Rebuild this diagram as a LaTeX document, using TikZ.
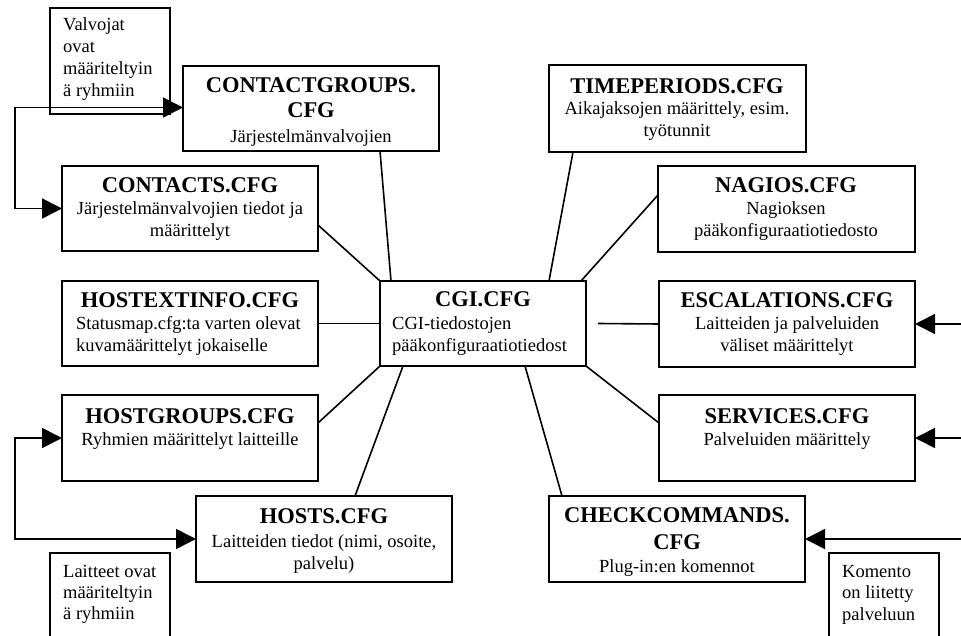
\documentclass[tikz,border=0pt]{standalone}
\usepackage{fontspec}
\setmainfont{Liberation Serif}
\usetikzlibrary{arrows.meta}
\newcommand\ttlfont{\fontsize{22.5}{26}\selectfont\bfseries}
\newcommand\bdyfont{\fontsize{18.5}{22}\selectfont}
% box: [style]{name}{x1}{y1}{x2}{y2}
\newcommand\mkbox[6][bx]{\node[#1, minimum width={(#5-#3)*1pt}, minimum height={(#6-#4)*1pt}] (#2) at ({(#3+#5)/2},{(#4+#6)/2}) {};}
% text line: {name}{style}{x}{y}{text}
\newcommand\tline[5]{\node[#2] (#1) at (#3,#4) {#5};}
\begin{document}
\begin{tikzpicture}[x=1pt,y=-1pt,
  bx/.style={draw,line width=1.8pt,rectangle,inner sep=0pt,outer sep=0pt},
  notebx/.style={draw,line width=1.4pt,rectangle,inner sep=0pt,outer sep=0pt},
  ttl/.style={anchor=base,inner sep=0pt,font=\ttlfont},
  bdy/.style={anchor=base,inner sep=0pt,font=\bdyfont},
  bdyl/.style={anchor=base west,inner sep=0pt,font=\bdyfont},
  link/.style={line width=1.6pt},
  tip/.tip={Triangle[length=20pt,width=20pt]},
  arr/.style={line width=1.6pt,-tip},
  darr/.style={line width=1.6pt,tip-tip}]
\useasboundingbox (0,0) rectangle (961,636);

% boxes
\mkbox[notebx]{vnote}{50}{8}{170}{114}
\mkbox{cg}{183}{66}{439}{151}
\mkbox{contacts}{62}{166}{318}{251}
\mkbox{hostext}{62}{281}{318}{366}
\mkbox{cgi}{380}{281}{586}{366}
\mkbox{hostgroups}{62}{395}{318}{481}
\mkbox{hosts}{196}{496}{452}{582}
\mkbox[notebx]{lnote}{50}{553}{170}{648}
\mkbox{tp}{549}{65}{806}{152}
\mkbox{nagios}{658}{166}{915}{252}
\mkbox{esc}{659}{281}{915}{367}
\mkbox{serv}{659}{395}{915}{481}
\mkbox{cc}{549}{496}{805}{582}
\mkbox[notebx]{knote}{829}{553}{939}{648}

% texts
\tline{vn1}{bdyl}{63}{31}{Valvojat}
\tline{vn2}{bdyl}{63}{53}{ovat}
\tline{vn3}{bdyl}{63}{75}{määriteltyin}
\tline{vn4}{bdyl}{63}{97}{ä ryhmiin}

\tline{cg1}{ttl}{311}{93}{CONTACTGROUPS.}
\tline{cg2}{ttl}{311}{118}{CFG}
\tline{cg3}{bdy}{311}{143}{Järjestelmänvalvojien}

\tline{ct1}{ttl}{190}{193}{CONTACTS.CFG}
\tline{ct2}{bdy}{190}{215}{Järjestelmänvalvojien tiedot ja}
\tline{ct3}{bdy}{190}{237}{määrittelyt}

\tline{he1}{ttl}{190}{308}{HOSTEXTINFO.CFG}
\tline{he2}{bdyl}{76}{330}{Statusmap.cfg:ta varten olevat}
\tline{he3}{bdyl}{76}{352}{kuvamäärittelyt jokaiselle}

\tline{cgi1}{ttl}{483}{307}{CGI.CFG}
\tline{cgi2}{bdyl}{392}{329}{CGI-tiedostojen}
\tline{cgi3}{bdyl}{392}{352}{pääkonfiguraatiotiedost}

\tline{hg1}{ttl}{190}{423}{HOSTGROUPS.CFG}
\tline{hg2}{bdy}{190}{445}{Ryhmien määrittelyt laitteille}

\tline{ho1}{ttl}{324}{523}{HOSTS.CFG}
\tline{ho2}{bdy}{324}{547}{Laitteiden tiedot (nimi, osoite,}
\tline{ho3}{bdy}{324}{569}{palvelu)}

\tline{ln1}{bdyl}{63}{577}{Laitteet ovat}
\tline{ln2}{bdyl}{63}{598}{määriteltyin}
\tline{ln3}{bdyl}{63}{619}{ä ryhmiin}

\tline{tp1}{ttl}{677}{94}{TIMEPERIODS.CFG}
\tline{tp2}{bdy}{677}{115}{Aikajaksojen määrittely, esim.}
\tline{tp3}{bdy}{677}{137}{työtunnit}

\tline{na1}{ttl}{786}{193}{NAGIOS.CFG}
\tline{na2}{bdy}{786}{215}{Nagioksen}
\tline{na3}{bdy}{786}{237}{pääkonfiguraatiotiedosto}

\tline{es1}{ttl}{787}{308}{ESCALATIONS.CFG}
\tline{es2}{bdy}{787}{330}{Laitteiden ja palveluiden}
\tline{es3}{bdy}{787}{352}{väliset määrittelyt}

\tline{sv1}{ttl}{787}{423}{SERVICES.CFG}
\tline{sv2}{bdy}{787}{445}{Palveluiden määrittely}

\tline{cc1}{ttl}{677}{522}{CHECKCOMMANDS.}
\tline{cc2}{ttl}{677}{549}{CFG}
\tline{cc3}{bdy}{677}{572}{Plug-in:en komennot}

\tline{kn1}{bdyl}{842}{577}{Komento}
\tline{kn2}{bdyl}{842}{598}{on liitetty}
\tline{kn3}{bdyl}{842}{620}{palveluun}

% links to CGI.CFG
\draw[link] ([xshift=197pt]cg.south west) -- ([xshift=11pt]cgi.north west);
\draw[link] ([yshift=26pt]contacts.south east) -- (cgi.north west);
\draw[link] (hostext.east) -- (cgi.west);
\draw[link] ([yshift=-28pt]hostgroups.north east) -- (cgi.south west);
\draw[link] ([xshift=159pt]hosts.north west) -- ([xshift=23pt]cgi.south west);
\draw[link] ([xshift=24pt]tp.south west) -- ([xshift=-37pt]cgi.north east);
\draw[link] ([yshift=-29pt]nagios.north west) -- ([xshift=-5pt]cgi.north east);
\draw[link] ([xshift=12pt]cgi.east) -- (esc.west);
\draw[link] ([yshift=-28pt]serv.north west) -- (cgi.south east);
\draw[link] ([xshift=13pt]cc.north west) -- ([xshift=-61pt]cgi.south east);

% arrows
\coordinate (lbus) at (15,0);
\coordinate (redge) at (961,0);
\draw[darr] ([yshift=1pt]cg.west) -- ([yshift=1pt]cg.west -| lbus) |- (contacts.west);
\draw[darr] (hostgroups.west) -- (hostgroups.west -| lbus) |- (hosts.west);
\draw[arr] (esc.east -| redge) -- (esc.east);
\draw[arr] (serv.east -| redge) -- (serv.east);
\draw[arr] (cc.east -| redge) -- (cc.east);
\end{tikzpicture}
\end{document}
